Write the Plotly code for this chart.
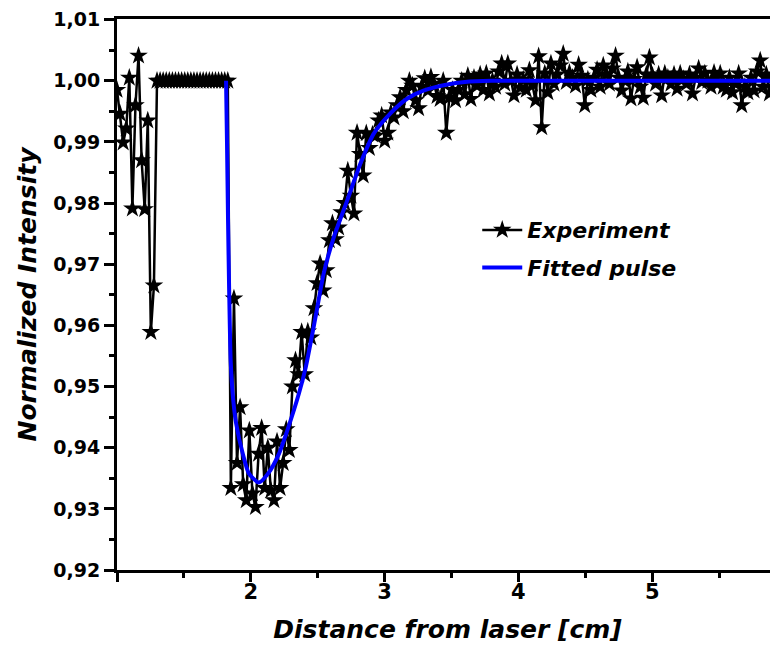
import plotly.graph_objects as go

# Data

# experiment: measured on an even grid, starting at 1.0 cm
x_start = 1.0
x_step = 0.023

y_exp = [
    # noisy start, 1.000 - 1.276
    0.9985, 0.9946, 0.9899, 0.9922, 1.0005, 0.9791, 0.9960, 1.0041, 0.9870, 0.9790,
    0.9935, 0.9589, 0.9665,
    # flat part, 1.299 - 1.828
    1.0000, 1.0000, 1.0000, 1.0000, 1.0000, 1.0000, 1.0000, 1.0000, 1.0000, 1.0000,
    1.0000, 1.0000, 1.0000, 1.0000, 1.0000, 1.0000, 1.0000, 1.0000, 1.0000, 1.0000,
    1.0000, 1.0000, 1.0000, 1.0000,
    # dip, 1.851 - 2.380
    0.9334, 0.9644, 0.9375, 0.9466, 0.9340, 0.9314, 0.9428, 0.9325, 0.9303, 0.9390,
    0.9432, 0.9334, 0.9400, 0.9330, 0.9314, 0.9410, 0.9334, 0.9375, 0.9430, 0.9396,
    0.9500, 0.9543, 0.9520, 0.9589,
    # rise, 2.403 - 3.507
    0.9520, 0.9590, 0.9580, 0.9628, 0.9669, 0.9701, 0.9657, 0.9690, 0.9739, 0.9767,
    0.9741, 0.9760, 0.9785, 0.9800, 0.9853, 0.9812, 0.9783, 0.9915, 0.9880, 0.9845,
    0.9914, 0.9890, 0.9912, 0.9910, 0.9935, 0.9943, 0.9902, 0.9915, 0.9948, 0.9940,
    0.9960, 0.9973, 0.9950, 0.9985, 1.0000, 0.9992, 0.9968, 0.9955, 0.9990, 1.0004,
    0.9984, 1.0006, 0.9995, 0.9975, 0.9970, 1.0000, 0.9915, 0.9973, 0.9985,
    # plateau, 3.530 - 5.945
    0.9968, 0.9985, 1.0000, 0.9978, 1.0008, 0.9970, 1.0005, 0.9992, 1.0010, 0.9985,
    1.0012, 0.9979, 1.0000, 0.9990, 1.0015, 1.0028, 0.9995, 1.0028, 1.0000, 0.9976,
    1.0010, 0.9989, 1.0002, 0.9985, 1.0017, 0.9995, 0.9968, 1.0040, 0.9924, 1.0012,
    0.9981, 1.0028, 0.9995, 1.0010, 1.0025, 1.0044, 0.9998, 1.0013, 1.0005, 0.9992,
    1.0026, 1.0008, 0.9960, 1.0002, 0.9985, 1.0005, 1.0018, 0.9990, 1.0025, 1.0010,
    0.9995, 1.0020, 1.0041, 1.0005, 0.9984, 1.0000, 1.0015, 0.9971, 1.0003, 1.0022,
    0.9990, 0.9972, 1.0010, 1.0038, 1.0008, 0.9995, 1.0010, 0.9976, 1.0012, 1.0005,
    0.9995, 1.0010, 0.9987, 1.0012, 1.0003, 0.9995, 1.0010, 0.9979, 1.0005, 1.0020,
    0.9998, 1.0012, 1.0000, 0.9990, 1.0013, 0.9995, 1.0012, 0.9990, 0.9985, 1.0005,
    0.9981, 0.9995, 1.0012, 0.9960, 0.9990, 0.9981, 1.0005, 0.9984, 1.0015, 1.0033,
    0.9990, 1.0010, 0.9979, 1.0005, 0.9985, 1.0000,
]
x_exp = [round(x_start + i * x_step, 3) for i in range(len(y_exp))]

# fitted pulse
x_fit = [1.815, 1.822, 1.830, 1.838, 1.850, 1.870, 1.890, 1.940, 1.985, 2.060,
         2.130, 2.210, 2.280, 2.360, 2.410, 2.485, 2.545, 2.620, 2.720, 2.820,
         2.920, 3.040, 3.170, 3.290, 3.470, 3.600, 3.800, 5.950]
y_fit = [1.0000, 0.9900, 0.9770, 0.9660, 0.9540, 0.9475, 0.9440, 0.9390, 0.9358, 0.9343,
         0.9358, 0.9390, 0.9433, 0.9489, 0.9531, 0.9615, 0.9685, 0.9744, 0.9804, 0.9865,
         0.9914, 0.9946, 0.9971, 0.9984, 0.9994, 0.9998, 1.0000, 1.0000]

x_ticks = [1, 2, 3, 4, 5]
x_ticktext = ["", "2", "3", "4", "5"]
y_ticks = [0.92, 0.93, 0.94, 0.95, 0.96, 0.97, 0.98, 0.99, 1.00, 1.01]

tick_font = dict(family="DejaVu Sans", size=19, color="black", weight="bold")
title_font = dict(family="DejaVu Sans", size=25, color="black")

fig = go.Figure()
fig.add_trace(go.Scatter(x=x_exp, y=y_exp, mode="lines+markers", name="<b><i>Experiment</i></b>",
                         legendgroup="a",
                         line=dict(color="black", width=2.5),
                         marker=dict(symbol="star", size=14, color="black")))
fig.add_trace(go.Scatter(x=x_fit, y=y_fit, mode="lines", name="<b><i>Fitted pulse</i></b>",
                         legendgroup="b",
                         line=dict(color="#0000ff", width=4, shape="spline", smoothing=0.6)))

# page adds ~8px around the div, so the figure is a bit smaller than the window
fig.update_layout(
    width=770, height=642,
    paper_bgcolor="white", plot_bgcolor="white",
    margin=dict(l=109, r=0, t=11, b=80),
    separators=",.",
    showlegend=True,
    legend=dict(x=0.545, y=0.655, xanchor="left", yanchor="top",
                font=dict(family="DejaVu Sans", size=22, color="black"),
                bgcolor="rgba(0,0,0,0)", tracegroupgap=6, itemwidth=40),
)
fig.update_xaxes(
    range=[1.0, 5.94], tickvals=x_ticks, ticktext=x_ticktext,
    ticks="outside", ticklen=9, tickwidth=3, tickcolor="black", ticklabelstandoff=-8,
    minor=dict(tickvals=[1.5, 2.5, 3.5, 4.5, 5.5], ticks="outside", ticklen=5, tickwidth=3, tickcolor="black"),
    showline=True, linewidth=3, linecolor="black", mirror=True,
    showgrid=False, zeroline=False,
    tickfont=dict(tick_font, size=21),
    title=dict(text="<b><i>Distance from laser [cm]</i></b>", font=title_font, standoff=18),
)
fig.update_yaxes(
    range=[0.92, 1.0101], tickvals=y_ticks, tickformat=".2f", ticklabeloverflow="allow",
    ticks="outside", ticklen=10, tickwidth=3, tickcolor="black",
    minor=dict(dtick=0.005, tick0=0.92, ticks="outside", ticklen=5, tickwidth=3, tickcolor="black"),
    showline=True, linewidth=3, linecolor="black", mirror=False,
    showgrid=False, zeroline=False,
    tickfont=tick_font,
    title=dict(text="<b><i>Normalized Intensity</i></b>", font=title_font, standoff=10),
)

fig.write_html("out.html")
